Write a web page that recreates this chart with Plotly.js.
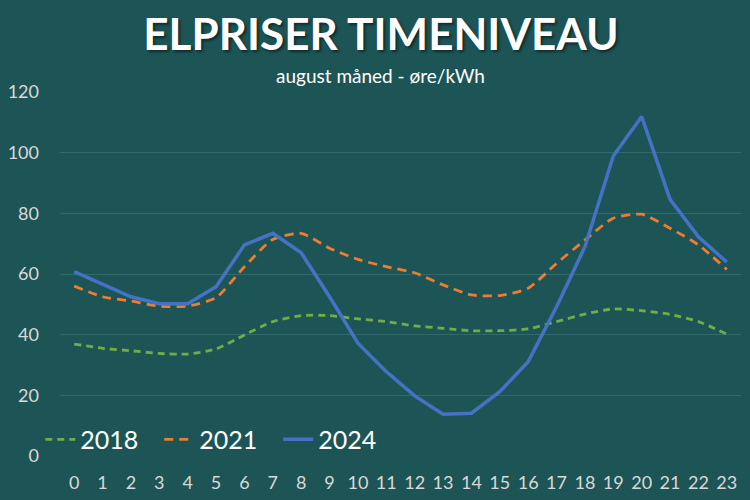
<!DOCTYPE html>
<html>
<head>
<meta charset="utf-8">
<script src="https://cdn.plot.ly/plotly-3.0.1.min.js"></script>
<style>
  html, body { margin: 0; padding: 0; background: #1d5557; }
  #chart { width: 750px; height: 500px; }
</style>
</head>
<body>
<div id="chart"></div>
<script>
// hours of the day
var hours = ['0','1','2','3','4','5','6','7','8','9','10','11','12','13','14','15','16','17','18','19','20','21','22','23']

// prices in øre/kWh
var y2018 = [36.9, 35.5, 34.7, 33.8, 33.6, 35.3, 39.9, 44.3, 46.3, 46.3, 45.2, 44.3, 42.9, 42.1, 41.3, 41.3, 41.9, 44.3, 46.8, 48.5, 47.9, 46.7, 44.3, 40.2]
var y2021 = [56.0, 52.5, 51.1, 49.4, 49.4, 52.2, 62.4, 71.4, 73.4, 68.5, 64.8, 62.4, 60.4, 56.4, 53.1, 52.9, 55.3, 63.5, 71.2, 78.4, 79.7, 75.1, 69.6, 61.5]
var y2024 = [60.8, 56.7, 52.5, 50.2, 50.2, 55.8, 69.6, 73.4, 67.0, 52.5, 37.2, 27.8, 19.8, 13.8, 14.1, 21.2, 31.1, 49.2, 69.0, 98.9, 111.9, 84.6, 72.3, 63.9]

var trace2018 = {
  x: hours,
  y: y2018,
  type: 'scatter',
  mode: 'lines',
  name: '2018',
  line: { color: '#70ad47', width: 2.8, dash: '7px,5px', shape: 'spline', smoothing: 0.6 },
}

var trace2021 = {
  x: hours,
  y: y2021,
  type: 'scatter',
  mode: 'lines',
  name: '2021',
  line: { color: '#ed7d31', width: 2.8, dash: '9px,6px', shape: 'spline', smoothing: 0.6 },
}

var trace2024 = {
  x: hours,
  y: y2024,
  type: 'scatter',
  mode: 'lines',
  name: '2024',
  line: { color: '#4472c4', width: 3.5 },
}

var layout = {
  width: 750,
  height: 500,
  paper_bgcolor: '#1d5557',
  plot_bgcolor: '#1d5557',
  font: { family: 'Lato, "Open Sans", sans-serif', color: '#d9d9d9' },
  margin: { l: 60, r: 9, t: 92, b: 44 },
  title: {
    text: 'ELPRISER TIMENIVEAU',
    font: { size: 44, color: '#ffffff', weight: 'bold', shadow: '2px 2px 3px rgba(0,0,0,0.5)' },
    x: 0.508,
    xanchor: 'center',
    yref: 'container',
    y: 0.93,
    yanchor: 'middle',
  },
  annotations: [{
    text: 'august måned - øre/kWh',
    xref: 'paper',
    yref: 'paper',
    x: 0.47,
    y: 1.044,
    xanchor: 'center',
    yanchor: 'middle',
    showarrow: false,
    font: { size: 19, color: '#ffffff' },
  }],
  xaxis: {
    type: 'category',
    range: [-0.5, 23.5],
    showgrid: false,
    zeroline: false,
    showline: false,
    ticks: '',
    ticklabelstandoff: 14,
    tickfont: { size: 18, color: '#d9d9d9' },
  },
  yaxis: {
    range: [0, 120],
    dtick: 20,
    gridcolor: '#32696b',
    gridwidth: 1,
    zeroline: false,
    showline: false,
    ticks: '',
    ticklabelstandoff: 20,
    tickfont: { size: 18, color: '#d9d9d9' },
  },
  showlegend: true,
  legend: {
    orientation: 'h',
    x: -0.029,
    xanchor: 'left',
    y: 0.045,
    yanchor: 'middle',
    bgcolor: 'rgba(0,0,0,0)',
    font: { size: 25, color: '#ffffff' },
    entrywidth: 74,
    entrywidthmode: 'pixels',
    itemwidth: 30,
  },
}

Plotly.newPlot('chart', [trace2018, trace2021, trace2024], layout, { displayModeBar: false })
</script>
</body>
</html>
